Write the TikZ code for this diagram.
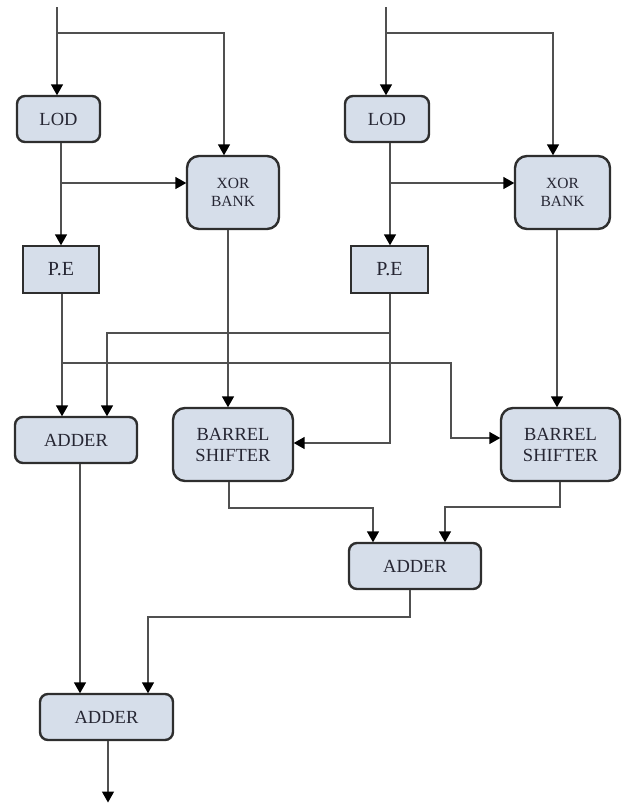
\documentclass[tikz,border=0pt]{standalone}
\usepackage{fontspec}
\setmainfont{Liberation Serif}
\usetikzlibrary{arrows.meta}
\definecolor{boxfill}{HTML}{D6DEEA}
\definecolor{boxline}{HTML}{2E2E2E}
\definecolor{wire}{HTML}{505050}
\definecolor{txt}{HTML}{262633}
\tikzset{
  blk/.style={draw=boxline, line width=2.4pt, fill=boxfill, text=txt, align=center,
    inner sep=0pt, font=\fontsize{18.5}{18.5}\selectfont},
  rblk/.style={blk, rounded corners=8pt},
  bigblk/.style={blk, rounded corners=12pt},
  arr/.style={draw=wire, line width=1.5pt, -{Triangle[width=12pt,length=11pt,color=black]}, shorten >=-0.5pt},
  wln/.style={draw=wire, line width=1.5pt}
}
\begin{document}
\begin{tikzpicture}[x=1pt,y=-1pt]
\useasboundingbox (0,0) rectangle (626,803);
% blocks
\node[rblk, minimum width=83pt, minimum height=46pt] (lod1) at (58.5,119) {LOD};
\node[bigblk, minimum width=92pt, minimum height=73pt, font=\fontsize{15.5}{18}\selectfont] (xor1) at (233,192.5) {XOR\\BANK};
\node[blk, minimum width=76pt, minimum height=47pt, font=\fontsize{20}{20}\selectfont] (pe1) at (61,269.5) {P.E};
\node[rblk, minimum width=84pt, minimum height=46pt] (lod2) at (387,119) {LOD};
\node[bigblk, minimum width=95pt, minimum height=73pt, font=\fontsize{15.5}{18}\selectfont] (xor2) at (562.5,192.5) {XOR\\BANK};
\node[blk, minimum width=77pt, minimum height=47pt, font=\fontsize{20}{20}\selectfont] (pe2) at (389.5,269.5) {P.E};
\node[rblk, minimum width=122pt, minimum height=46pt] (add1) at (76,440) {ADDER};
\node[bigblk, minimum width=120pt, minimum height=73pt, font=\fontsize{18.5}{21}\selectfont] (bs1) at (233,444.5) {BARREL\\SHIFTER};
\node[bigblk, minimum width=119pt, minimum height=73pt, font=\fontsize{18.5}{21}\selectfont] (bs2) at (560.5,444.5) {BARREL\\SHIFTER};
\node[rblk, minimum width=132pt, minimum height=46pt] (add2) at (415,566) {ADDER};
\node[rblk, minimum width=133pt, minimum height=46pt] (add3) at (106.5,717) {ADDER};
% junction / free-end coordinates
\coordinate (in1) at (57,7);
\coordinate (in2) at (386,7);
\coordinate (j1) at (57,33);
\coordinate (j2) at (386,33);
\coordinate (k1) at (61,183);
\coordinate (k2) at (390,183);
\coordinate (m1) at (62,363);
\coordinate (m2) at (390,333);
\coordinate (out) at (108,802);
% top inputs
\draw[arr] (in1) -- (lod1.north -| in1);
\draw[arr] (j1) -- (224,33) -- (xor1.north -| 224,0);
\draw[arr] (in2) -- (lod2.north -| in2);
\draw[arr] (j2) -- (553,33) -- (xor2.north -| 553,0);
% LOD outputs
\draw[arr] (lod1.south -| k1) -- (pe1.north -| k1);
\draw[arr] (k1) -- (xor1.west |- k1);
\draw[arr] (lod2.south -| k2) -- (pe2.north -| k2);
\draw[arr] (k2) -- (xor2.west |- k2);
% P.E outputs
\draw[arr] (pe1.south -| m1) -- (add1.north -| m1);
\draw[arr] (m1) -- (451,363) -- (451,438) -- (bs2.west |- 0,438);
\draw[arr] (pe2.south -| m2) -- (390,443) -- (bs1.east |- 0,443);
\draw[arr] (m2) -- (107,333) -- (add1.north -| 107,0);
% XOR outputs
\draw[arr] (xor1.south -| 228,0) -- (bs1.north -| 228,0);
\draw[arr] (xor2.south -| 557,0) -- (bs2.north -| 557,0);
% barrel outputs
\draw[arr] (bs1.south -| 229,0) -- (229,508) -- (373,508) -- (add2.north -| 373,0);
\draw[arr] (bs2.south -| 560,0) -- (560,507) -- (445,507) -- (add2.north -| 445,0);
% adders
\draw[arr] (add1.south -| 80,0) -- (add3.north -| 80,0);
\draw[arr] (add2.south -| 410,0) -- (410,617) -- (148,617) -- (add3.north -| 148,0);
\draw[arr] (add3.south -| out) -- (out);
\end{tikzpicture}
\end{document}
